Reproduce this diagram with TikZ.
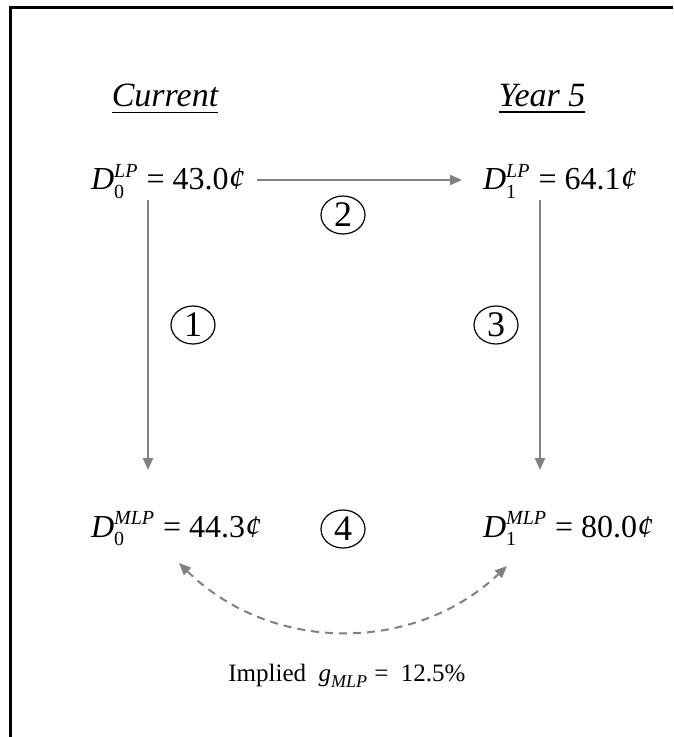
\documentclass[tikz,border=0pt]{standalone}
\usepackage{amsmath}
\usepackage{fontspec}
\setmainfont{Liberation Serif}
\usetikzlibrary{arrows.meta, shapes.geometric}
\definecolor{flowgray}{RGB}{128,128,128}
\newcommand{\divd}[3]{${\hbox{\itshape D}}^{\hbox{\fontsize{10}{11}\selectfont\itshape #2}}_{\hbox{\fontsize{10}{11}\selectfont #1}}$ = #3{\itshape ¢}}

\begin{document}
\begin{tikzpicture}[x=0.5pt, y=-0.5pt,
  every node/.style={font=\fontsize{16}{19}\selectfont},
  flow/.style={draw=flowgray, line width=1pt, -{Triangle[length=6pt, width=5pt]}},
  link/.style={draw=flowgray, line width=1pt, dash pattern=on 4pt off 3pt,
    {Triangle[length=6pt, width=5pt]}-{Triangle[length=6pt, width=5pt]}},
  numbox/.style={draw, ellipse, line width=0.6pt, minimum width=22pt,
    minimum height=19pt, inner sep=0pt, font=\fontsize{18}{21}\selectfont}]
  \useasboundingbox (0,0) rectangle (673,737);

  % frame (top and left only)
  \draw[line width=1.3pt] (10.5,737) -- (10.5,7.5) -- (673,7.5);

  % column heads
  \node[anchor=base] (cur) at (165,107) {\underline{\fontsize{17}{20}\selectfont\itshape Current}};
  \node[anchor=base] (yr) at (542,107) {\underline{\fontsize{17}{20}\selectfont\itshape Year 5}};

  % dividends
  \node[anchor=base west] (d0lp) at (84,190) {\divd{0}{LP}{43.0}};
  \node[anchor=base west] (d1lp) at (476,190) {\divd{1}{LP}{64.1}};
  \node[anchor=base west] (d0mlp) at (84,537) {\divd{0}{MLP}{44.3}};
  \node[anchor=base west] (d1mlp) at (476,537) {\divd{1}{MLP}{80.0}};

  % steps
  \node[numbox] (s1) at (193,325) {1};
  \node[numbox] (s2) at (343,215) {2};
  \node[numbox] (s3) at (496,325) {3};
  \node[numbox] (s4) at (343,529) {4};

  % arrows
  \coordinate (lx) at (148,0);
  \coordinate (rx) at (540,0);
  \draw[flow] (257,180) -- (462,180);
  \draw[flow] (d0lp.south -| lx) ++(0,-6) -- (148,470);
  \draw[flow] (d1lp.south -| rx) ++(0,-6) -- (540,470);

  % implied growth
  \coordinate (lt) at (179,563);
  \coordinate (rt) at (507,566);
  \draw[link] (lt) to[bend right=44] (rt);
  \node[font=\fontsize{12.5}{15}\selectfont] (gm) at (347,676)
       {Implied~ ${\hbox{\itshape g}}_{\hbox{\fontsize{9}{10}\selectfont\itshape MLP}}$ = ~12.5\%};
\end{tikzpicture}
\end{document}
